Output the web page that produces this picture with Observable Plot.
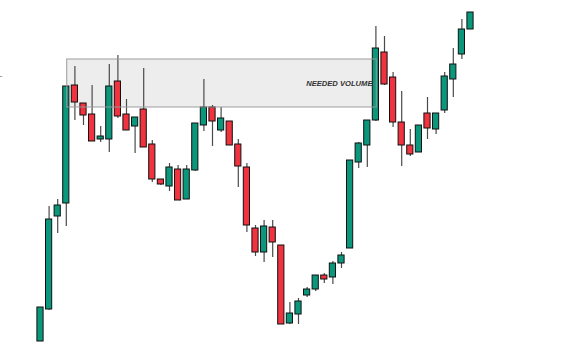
<!DOCTYPE html>
<html>
<head>
<meta charset="utf-8">
<script src="https://cdn.jsdelivr.net/npm/d3@7"></script>
<script src="https://cdn.jsdelivr.net/npm/@observablehq/plot@0.6"></script>
<style>
  html, body { margin: 0; padding: 0; background: #fff; }
  #chart { width: 585px; height: 363px; }
</style>
</head>
<body>
<div id="chart"></div>
<script>
// Candle data (arbitrary price units)
const open  = [59, 91,184,197,315,297,286,261,261,319,286,274,291,256,221,214,231,201,230,275,293,270,279,256,233,172,148,173,155, 77, 86,105,111,125,123,137,152,238,255,280,348,323,278,255,248,287,271,290,321,346,371];
const high  = [93,194,201,314,334,297,315,274,336,345,301,283,332,260,221,237,235,235,277,321,295,293,279,261,237,175,180,180,155, 98,102,113,125,127,139,148,240,258,280,374,364,328,309,271,275,303,287,328,352,381,388];
const low   = [59, 90,167,174,280,275,259,258,248,282,270,247,253,218,215,209,200,201,229,269,254,268,255,213,168,144,138,143, 76, 76, 76,103,109,117,116,132,152,232,233,279,315,273,234,244,248,261,266,287,303,341,371];
const close = [93,181,195,314,298,285,259,264,314,284,270,283,253,221,216,233,200,231,277,293,279,282,255,234,175,148,174,158, 76, 87, 99,111,125,121,137,145,240,257,280,352,316,278,255,246,275,272,287,324,336,371,388];

const zoneLabel = "NEEDED VOLUME";
const zone = [{x1: 3.1, x2: 39.1, y1: 293, y2: 341}];

const candles = open.map((o, i) => ({i, open: o, high: high[i], low: low[i], close: close[i]}));

const chart = Plot.plot({
  width: 585,
  height: 363,
  margin: 0,
  x: {type: "linear", domain: [-4.651, 63.372], axis: null},
  y: {type: "linear", domain: [37, 400], axis: null},
  marks: [
    Plot.rect(zone, {x1: "x1", x2: "x2", y1: "y1", y2: "y2", fill: "#ededed"}),
    Plot.ruleX(candles, {x: "i", y1: "low", y2: "high", stroke: "#4a4a4a", strokeWidth: 1.2}),
    Plot.rect(candles, {
      x1: d => d.i - 0.36, x2: d => d.i + 0.36,
      y1: "open", y2: "close",
      fill: d => d.close >= d.open ? "#0b977c" : "#f0333f",
      stroke: "#111", strokeWidth: 1
    }),
    Plot.rect(zone, {x1: "x1", x2: "x2", y1: "y1", y2: "y2", fill: "none", stroke: "#999", strokeOpacity: 0.8, strokeWidth: 1.2}),
    Plot.text([zoneLabel], {x: 38.6, y: 317, text: d => d, textAnchor: "end", fontSize: 7.6, fontWeight: "bold", fontStyle: "italic", fill: "#333", fontFamily: "Liberation Sans, Arial, sans-serif"}),
    Plot.text(["-"], {frameAnchor: "left", y: 324, text: d => d, textAnchor: "start", fontSize: 9, fill: "#777", dx: -1})
  ]
});
document.getElementById("chart").appendChild(chart);
</script>
</body>
</html>
